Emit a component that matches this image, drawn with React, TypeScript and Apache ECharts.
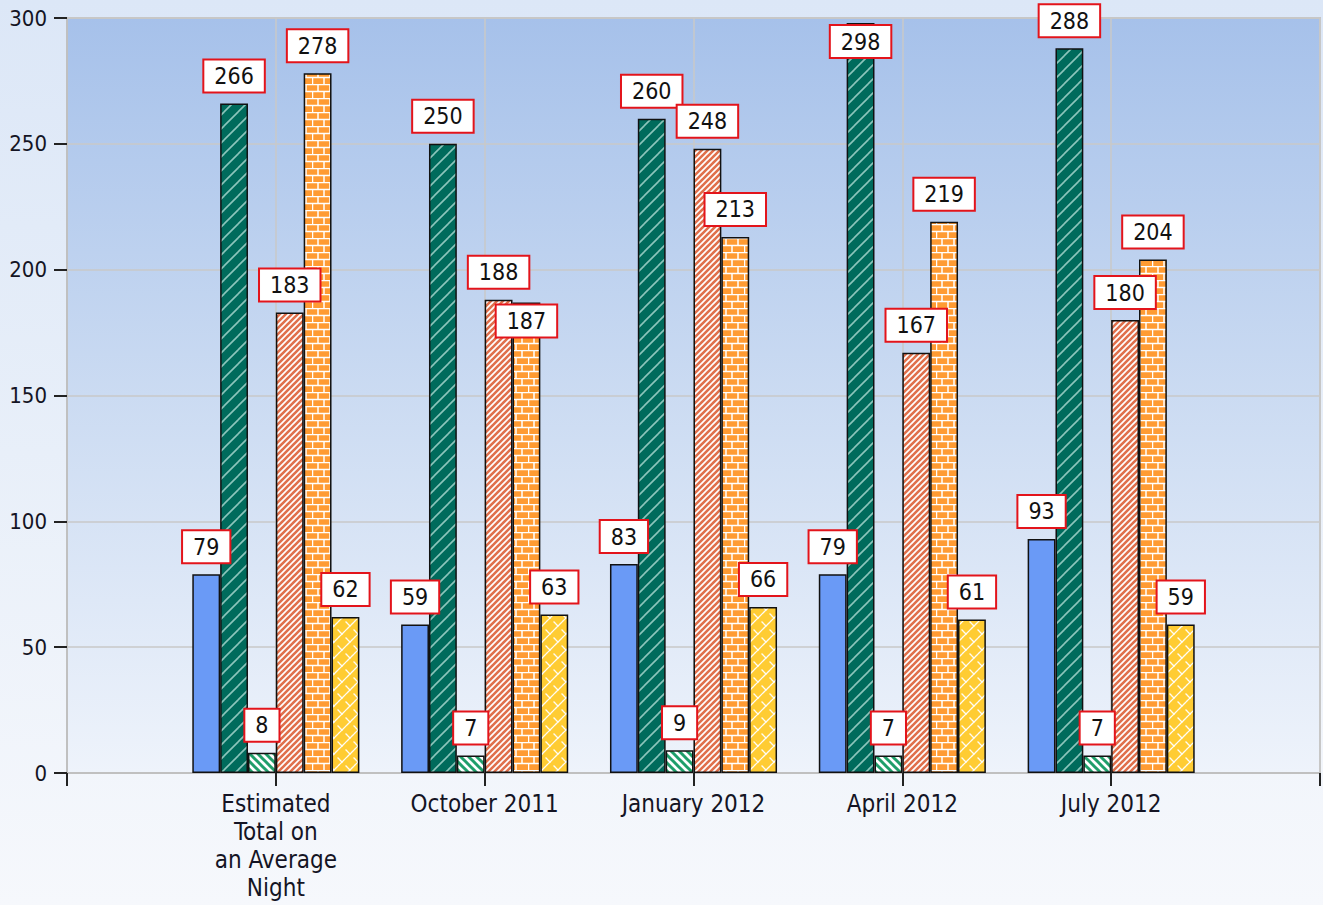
import React, { useEffect, useRef } from "react";
import * as echarts from "echarts";

const categories = ["", "Estimated\nTotal on\nan Average\nNight", "October 2011", "January 2012", "April 2012", "July 2012", ""];
const blueValues = [79, 59, 83, 79, 93];
const tealValues = [266, 250, 260, 298, 288];
const greenValues = [8, 7, 9, 7, 7];
const salmonValues = [183, 188, 248, 167, 180];
const brickValues = [278, 187, 213, 219, 204];
const yellowValues = [62, 63, 66, 61, 59];
const yTicks = { min: 0, max: 300, interval: 50 };

const FONT = "'DejaVu Sans Condensed', 'DejaVu Sans', sans-serif";

function tile(w: number, h: number, bg: string, draw: (c: CanvasRenderingContext2D) => void) {
  const cv = document.createElement("canvas");
  cv.width = w;
  cv.height = h;
  const c = cv.getContext("2d")!;
  c.fillStyle = bg;
  c.fillRect(0, 0, w, h);
  draw(c);
  return cv;
}

function diag(c: CanvasRenderingContext2D, s: number, dir: 1 | -1, color: string, lw: number) {
  c.strokeStyle = color;
  c.lineWidth = lw;
  c.lineCap = "square";
  for (let k = -1; k <= 1; k++) {
    c.beginPath();
    if (dir === 1) {
      c.moveTo(k * s, s);
      c.lineTo(k * s + s, 0);
    } else {
      c.moveTo(k * s, 0);
      c.lineTo(k * s + s, s);
    }
    c.stroke();
  }
}

function makePatterns() {
  const teal = tile(14, 14, "#006b5c", (c) => diag(c, 14, 1, "rgba(200,235,228,0.7)", 1.6));
  const green = tile(8, 8, "#ffffff", (c) => diag(c, 8, -1, "#1f9e6a", 3));
  const salmon = tile(6, 6, "#ffffff", (c) => diag(c, 6, 1, "#e0704c", 2.6));
  const brick = tile(24, 14, "#ff9b33", (c) => {
    c.strokeStyle = "#ffffff";
    c.lineWidth = 1.5;
    c.beginPath();
    c.moveTo(0, 0.5); c.lineTo(24, 0.5);
    c.moveTo(0, 7.5); c.lineTo(24, 7.5);
    c.moveTo(6, 0); c.lineTo(6, 7);
    c.moveTo(18, 0); c.lineTo(18, 7);
    c.moveTo(0.5, 7); c.lineTo(0.5, 14);
    c.moveTo(12, 7); c.lineTo(12, 14);
    c.stroke();
  });
  const yellow = tile(16, 16, "#ffcc33", (c) => {
    c.setLineDash([1.5, 1.2]);
    diag(c, 16, 1, "rgba(255,255,255,0.95)", 1.3);
    c.strokeStyle = "rgba(255,255,255,0.95)";
    c.lineWidth = 1.3;
    c.beginPath();
    c.moveTo(2, 6); c.lineTo(6, 10);
    c.moveTo(10, 14); c.lineTo(14, 18);
    c.moveTo(10, -2); c.lineTo(14, 2);
    c.stroke();
  });
  return { teal, green, salmon, brick, yellow };
}

// label shifts (series index - category index) where the original moved a label onto its bar
const labelOffsets: Record<string, number[]> = { "4-2": [0, 46], "1-4": [0, 46] };

export default function App() {
  const ref = useRef<HTMLDivElement>(null);
  useEffect(() => {
    if (!ref.current) return;
    const chart = echarts.init(ref.current, undefined, { renderer: "svg" });
    const p = makePatterns();
    const wrap = (vals: number[], si: number) =>
      ["-", ...vals.map((v, i) => {
        const off = labelOffsets[si + "-" + (i + 1)];
        return off ? { value: v, label: { offset: off } } : v;
      }), "-"];
    const baseLabel = {
      show: true,
      position: "top",
      distance: 12,
      backgroundColor: "#ffffff",
      borderColor: "#e3141b",
      borderWidth: 2,
      padding: [4, 10, 4, 10],
      fontSize: 23,
      fontFamily: FONT,
      color: "#111",
    };
    const mk = (name: string, vals: number[], color: any, si: number) => ({
      name,
      type: "bar",
      data: wrap(vals, si),
      barGap: "0%",
      barCategoryGap: "20%",
      itemStyle: { color, borderColor: "#111", borderWidth: 1.5 },
      label: baseLabel,
    });
    chart.setOption({
      animation: false,
      backgroundColor: "transparent",
      grid: {
        left: 67,
        right: 3,
        top: 18,
        bottom: 132,
        show: true,
        borderColor: "#c4c4c4",
        borderWidth: 2,
        backgroundColor: new echarts.graphic.LinearGradient(0, 0, 0, 1, [
          { offset: 0, color: "#a6c1ea" },
          { offset: 0.5, color: "#cbdbf2" },
          { offset: 1, color: "#eef3fb" },
        ]),
      },
      xAxis: {
        type: "category",
        data: categories,
        boundaryGap: false,
        axisLine: { lineStyle: { color: "#c0c0c0", width: 2 } },
        axisTick: { show: true, length: 13, lineStyle: { color: "#222", width: 2 } },
        axisLabel: {
          interval: 0,
          margin: 17,
          fontSize: 24,
          lineHeight: 28,
          fontFamily: FONT,
          color: "#141424",
        },
        splitLine: { show: true, lineStyle: { color: "#c8c8c8", width: 1.5 } },
      },
      yAxis: {
        type: "value",
        min: yTicks.min,
        max: yTicks.max,
        interval: yTicks.interval,
        axisLine: { show: true, lineStyle: { color: "#c0c0c0", width: 2 } },
        axisTick: { show: true, length: 13, lineStyle: { color: "#222", width: 2 } },
        axisLabel: { margin: 20, fontSize: 22, fontFamily: FONT, color: "#141424" },
        splitLine: { show: true, lineStyle: { color: "#c8c8c8", width: 1.5 } },
      },
      series: [
        mk("Series 1", blueValues, "#6a9af6", 0),
        mk("Series 2", tealValues, { image: p.teal, repeat: "repeat" }, 1),
        mk("Series 3", greenValues, { image: p.green, repeat: "repeat" }, 2),
        mk("Series 4", salmonValues, { image: p.salmon, repeat: "repeat" }, 3),
        mk("Series 5", brickValues, { image: p.brick, repeat: "repeat" }, 4),
        mk("Series 6", yellowValues, { image: p.yellow, repeat: "repeat" }, 5),
      ],
    });
    return () => chart.dispose();
  }, []);
  return (
    <div
      style={{
        position: "absolute",
        left: 0,
        top: 0,
        width: 1323,
        height: 905,
        background: "linear-gradient(180deg, #dce7f7 0%, #e8eff9 50%, #f6f8fc 100%)",
      }}
    >
      <div ref={ref} style={{ width: 1323, height: 905 }} />
    </div>
  );
}
